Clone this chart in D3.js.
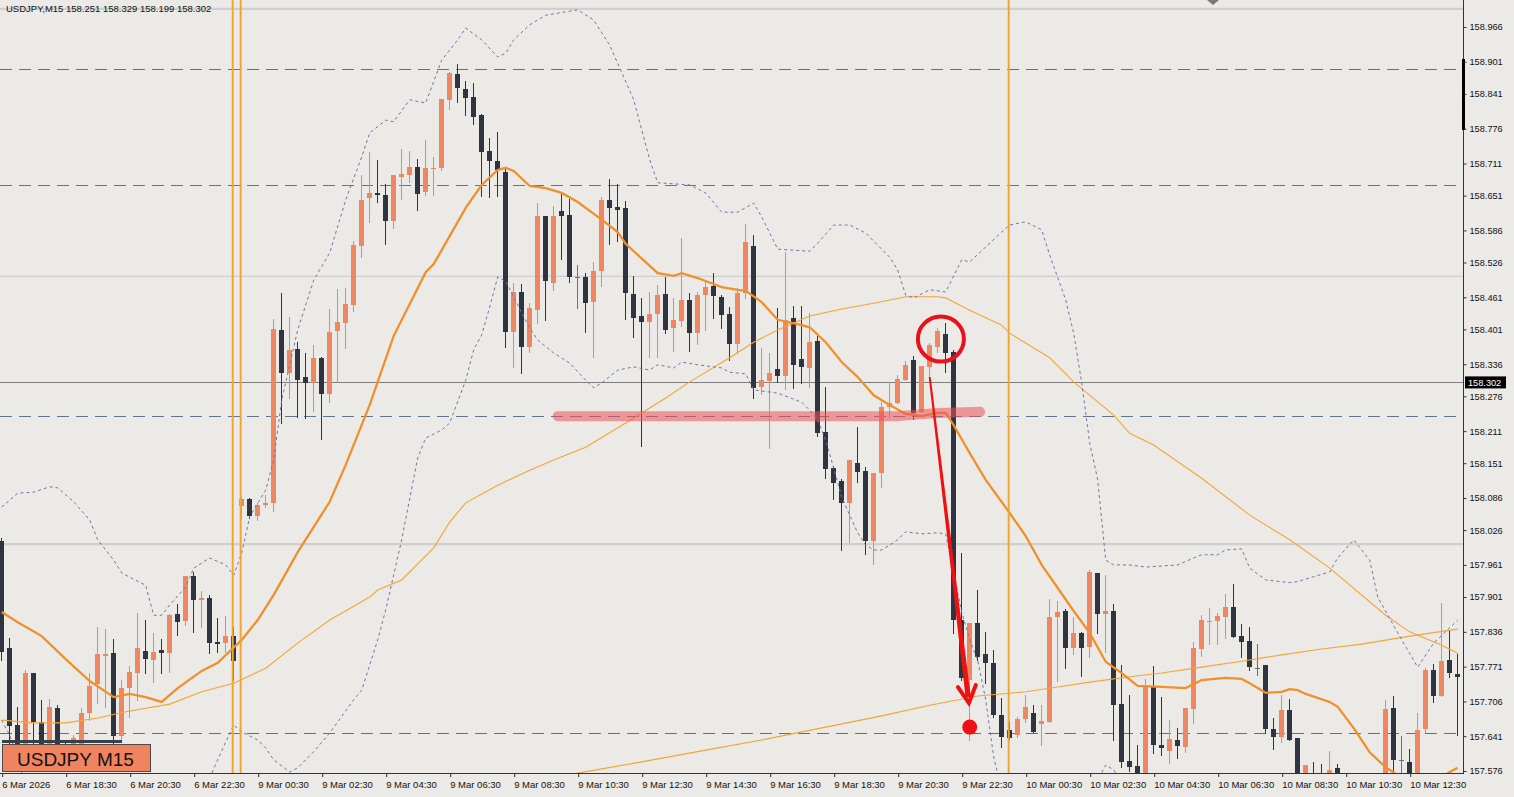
<!DOCTYPE html>
<html><head><meta charset="utf-8">
<script src="https://cdn.jsdelivr.net/npm/d3@7"></script>
<style>
html,body{margin:0;padding:0;background:#ECEAE6;overflow:hidden;}
svg{display:block;}
text{font-family:"Liberation Sans",Arial,sans-serif;}
</style></head><body>
<svg id="c" width="1514" height="797"></svg>
<script>
// ---------- DATA ----------
const symbolTitle = "USDJPY,M15  158.251 158.329 158.199 158.302";
const badgeText = "USDJPY M15";
const currentPrice = 158.302;

const opens = [158.006,157.806,157.662,157.587,157.759,157.668,157.597,157.694,157.625,157.606,157.625,157.684,157.738,157.791,157.796,157.641,157.731,157.759,157.800,157.783,157.802,157.796,157.869,157.856,157.940,157.895,157.899,157.817,157.815,157.828,
158.071,158.084,158.052,158.073,158.077,158.400,158.320,158.364,158.312,158.301,158.348,158.280,158.398,158.413,158.447,158.557,158.647,158.656,158.652,158.604,158.686,158.690,158.704,158.658,158.701,158.703,158.830,158.878,158.850,158.835,
158.802,158.734,158.716,158.695,158.396,158.471,158.368,158.437,158.613,158.488,158.622,158.615,158.499,158.499,158.452,158.510,158.643,158.630,158.628,158.467,158.426,158.415,158.430,158.467,158.404,158.417,158.456,158.394,158.465,158.482,
158.462,158.430,158.374,158.469,158.557,158.293,158.305,158.327,158.314,158.422,158.346,158.329,158.379,158.209,158.142,158.118,158.077,158.151,158.137,158.006,158.133,158.256,158.263,158.306,158.344,158.247,158.331,158.368,158.392,158.359,
157.858,157.746,157.852,157.795,157.778,157.681,157.653,157.643,157.673,157.684,157.664,157.668,157.864,157.875,157.806,157.834,157.808,157.946,157.869,157.875,157.701,157.595,157.585,157.550,157.735,157.625,157.613,157.634,157.621,157.692,
157.804,157.854,157.856,157.864,157.882,157.828,157.819,157.768,157.774,157.654,157.639,157.690,157.638,157.540,157.568,157.567,157.550,157.582,157.559,157.522,157.494,157.522,157.499,157.550,157.694,157.597,157.593,157.540,157.654,157.765,
157.716,157.783,157.757];
const highs = [158.011,157.824,157.696,157.765,157.759,157.709,157.710,157.699,157.630,157.643,157.694,157.759,157.845,157.841,157.823,157.746,157.772,157.871,157.858,157.834,157.823,157.869,157.888,157.940,157.948,157.912,157.905,157.862,157.866,157.845,
158.088,158.086,158.077,158.092,158.420,158.469,158.424,158.377,158.357,158.372,158.349,158.439,158.477,158.478,158.566,158.690,158.732,158.718,158.673,158.690,158.738,158.734,158.719,158.755,158.723,158.831,158.882,158.897,158.865,158.861,
158.803,158.759,158.770,158.703,158.488,158.486,158.450,158.637,158.613,158.632,158.656,158.645,158.521,158.506,158.527,158.648,158.682,158.673,158.641,158.501,158.460,158.471,158.484,158.499,158.460,158.572,158.469,158.471,158.493,158.506,
158.465,158.443,158.478,158.598,158.577,158.366,158.357,158.441,158.546,158.445,158.445,158.432,158.389,158.293,158.146,158.122,158.157,158.219,158.144,158.133,158.265,158.303,158.316,158.342,158.351,158.333,158.376,158.404,158.413,158.363,
157.983,157.852,157.914,157.836,157.802,157.712,157.668,157.677,157.718,157.699,157.699,157.897,157.894,157.879,157.864,157.836,157.951,157.946,157.942,157.888,157.774,157.718,157.625,157.748,157.772,157.714,157.671,157.656,157.694,157.817,
157.867,157.880,157.871,157.907,157.925,157.851,157.845,157.813,157.774,157.675,157.718,157.710,157.638,157.587,157.593,157.589,157.613,157.589,157.567,157.540,157.540,157.531,157.559,157.709,157.716,157.641,157.617,157.684,157.768,157.776,
157.890,157.839,157.795];
const lows = [157.783,157.619,157.578,157.578,157.615,157.587,157.582,157.597,157.587,157.597,157.615,157.671,157.703,157.696,157.612,157.630,157.677,157.709,157.759,157.742,157.759,157.761,157.830,157.849,157.836,157.845,157.796,157.798,157.798,157.746,
158.049,158.049,158.045,158.069,158.062,158.226,158.273,158.237,158.235,158.249,158.196,158.265,158.303,158.366,158.435,158.536,158.602,158.639,158.561,158.591,158.645,158.676,158.624,158.652,158.652,158.699,158.813,158.826,158.802,158.785,
158.650,158.648,158.650,158.368,158.331,158.320,158.359,158.413,158.419,158.475,158.533,158.490,158.441,158.396,158.349,158.482,158.561,158.566,158.420,158.387,158.183,158.349,158.349,158.394,158.361,158.407,158.361,158.374,158.400,158.422,
158.404,158.344,158.357,158.460,158.273,158.280,158.180,158.303,158.290,158.292,158.301,158.293,158.202,158.123,158.084,157.989,158.004,158.116,157.981,157.963,158.107,158.237,158.263,158.306,158.234,158.247,158.312,158.359,158.321,157.834,
157.746,157.634,157.783,157.740,157.677,157.621,157.636,157.639,157.668,157.649,157.625,157.668,157.744,157.768,157.795,157.754,157.789,157.834,157.798,157.634,157.584,157.576,157.531,157.540,157.610,157.606,157.591,157.600,157.612,157.666,
157.791,157.813,157.813,157.824,157.826,157.789,157.765,157.755,157.647,157.617,157.630,157.634,157.522,157.531,157.526,157.522,157.540,157.540,157.503,157.475,157.484,157.484,157.494,157.540,157.568,157.550,157.531,157.531,157.649,157.705,
157.716,157.752,157.643];
const closes = [157.798,157.660,157.597,157.759,157.668,157.606,157.696,157.615,157.600,157.638,157.684,157.735,157.795,157.795,157.641,157.731,157.761,157.806,157.785,157.798,157.796,157.867,157.854,157.940,157.895,157.899,157.815,157.813,157.828,157.781,
158.084,158.052,158.073,158.077,158.402,158.320,158.363,158.306,158.301,158.348,158.280,158.396,158.415,158.448,158.559,158.643,158.656,158.652,158.604,158.690,158.691,158.704,158.654,158.703,158.703,158.831,158.880,158.852,158.833,158.798,
158.732,158.716,158.699,158.396,158.471,158.368,158.441,158.613,158.491,158.613,158.613,158.499,158.499,158.450,158.510,158.643,158.628,158.624,158.469,158.422,158.415,158.430,158.465,158.400,158.419,158.456,158.394,158.465,158.480,158.463,
158.428,158.374,158.469,158.564,158.292,158.306,158.320,158.314,158.419,158.335,158.331,158.377,158.207,158.140,158.114,158.077,158.157,158.135,158.006,158.133,158.256,158.263,158.308,158.335,158.245,158.333,158.372,158.398,158.357,157.858,
157.750,157.852,157.789,157.778,157.681,157.639,157.638,157.673,157.696,157.649,157.669,157.864,157.873,157.806,157.834,157.806,157.948,157.869,157.875,157.699,157.593,157.584,157.550,157.733,157.625,157.619,157.636,157.623,157.694,157.806,
157.858,157.856,157.866,157.882,157.826,157.817,157.770,157.768,157.654,157.639,157.690,157.634,157.540,157.587,157.540,157.537,157.578,157.559,157.522,157.494,157.522,157.499,157.550,157.692,157.597,157.597,157.540,157.653,157.765,157.716,
157.781,157.759,157.752];

// Bollinger middle (thick orange), read at bar indices
const midBars = [0,2,5,8,11,14,16,18,20,22,25,27,30,32,34,37,41,43,46,49,53,54,58,60,62,63,64,66,68,70,72,75,77,78,82,84,85,87,90,92,93,95,97,100,101,103,105,107,109,111,113,115,117,118,119,121,123,126,128,130,134,136,138,140,142,145,148,150,153,155,156,158,160,161,162,163,166,167,169,171,173,175,177,179,181,182];
const midVals = [157.873,157.854,157.828,157.785,157.744,157.714,157.720,157.714,157.705,157.731,157.763,157.778,157.821,157.858,157.905,157.985,158.079,158.148,158.260,158.389,158.508,158.523,158.628,158.671,158.699,158.703,158.697,158.669,158.665,158.656,158.639,158.606,158.583,158.561,158.506,158.501,158.506,158.497,158.480,158.475,158.473,158.452,158.419,158.409,158.405,158.377,158.340,158.312,158.278,158.260,158.243,158.239,158.245,158.245,158.222,158.170,158.120,158.058,158.015,157.961,157.875,157.834,157.780,157.759,157.735,157.733,157.731,157.746,157.750,157.748,157.740,157.722,157.724,157.729,157.727,157.720,157.705,157.696,157.656,157.611,157.583,157.563,157.550,157.555,157.574,157.582];

// Upper band
const upBars = [0,2,4,6,7,9,11,12,14,15,16,18,19,20,21,23,24,26,28,29,30,31,33,34,35,37,39,41,43,45,46,48,49,51,53,55,57,58,60,62,63,64,66,68,72,74,76,79,81,82,86,88,90,92,94,95,97,99,101,102,104,106,108,111,112,113,114,116,118,120,121,125,126,128,130,131,133,134,135,136,137,138,139,141,143,147,149,150,152,153,155,156,158,161,162,164,166,167,169,171,172,175,177,179,182];
const upVals = [158.069,158.095,158.097,158.107,158.105,158.079,158.045,158.008,157.970,157.946,157.938,157.923,157.867,157.867,157.886,157.920,157.955,157.974,157.961,157.942,157.983,158.051,158.101,158.157,158.269,158.400,158.493,158.544,158.643,158.723,158.768,158.792,158.789,158.830,158.824,158.904,158.942,158.964,158.942,158.910,158.917,158.942,158.970,158.988,158.998,158.979,158.932,158.830,158.718,158.675,158.671,158.656,158.620,158.620,158.637,158.611,158.551,158.549,158.547,158.562,158.596,158.596,158.581,158.536,158.512,158.465,158.460,158.475,158.471,158.531,158.527,158.583,158.596,158.602,158.587,158.540,158.456,158.394,158.301,158.189,158.120,157.970,157.961,157.961,157.957,157.961,157.974,157.980,157.980,157.989,157.991,157.955,157.933,157.928,157.930,157.939,157.948,157.974,158.008,157.970,157.901,157.821,157.770,157.815,157.858];

// Lower band
const loBars = [0,1,2,3,5,10,16,22,26,27,28,29,30,32,33,34,36,37,39,41,44,45,47,48,50,52,53,55,56,58,59,60,61,62,63,65,66,67,69,71,73,74,75,77,79,81,82,84,85,87,90,91,93,94,97,100,101,102,103,104,105,106,107,108,109,110,111,112,113,115,117,118,120,121,122,123,124,125,127,130,135,137,138,139,141,146,155,165,175,182];
const loVals = [157.671,157.643,157.597,157.550,157.522,157.512,157.522,157.531,157.563,157.597,157.630,157.662,157.649,157.634,157.619,157.597,157.574,157.582,157.612,157.647,157.709,157.727,157.821,157.877,158.008,158.161,158.198,158.213,158.226,158.306,158.363,158.391,158.443,158.499,158.491,158.432,158.404,158.381,158.357,158.338,158.306,158.292,158.301,158.325,158.331,158.325,158.335,158.329,158.340,158.335,158.329,158.321,158.318,158.288,158.282,158.265,158.250,158.232,158.194,158.142,158.088,158.054,158.021,157.998,157.989,157.989,157.998,158.008,158.023,158.019,158.021,158.019,157.873,157.821,157.783,157.709,157.602,157.540,157.503,157.494,157.522,157.559,157.587,157.578,157.531,157.484,157.466,157.466,157.447,157.456];

// Slow moving average 1 (thin orange)
const ma1Bars = [0,4,8,12,16,21,25,29,33,37,41,46,47,50,54,56,58,62,66,69,73,78,80,83,86,91,94,97,101,105,109,113,117,118,121,125,126,131,134,139,141,144,150,156,161,166,173,176,180,182];
const ma1Vals = [157.671,157.666,157.666,157.675,157.688,157.701,157.724,157.740,157.768,157.815,157.858,157.901,157.914,157.933,157.993,158.041,158.077,158.110,158.138,158.157,158.181,158.226,158.245,158.273,158.303,158.348,158.377,158.400,158.426,158.439,158.450,158.462,158.462,158.460,158.437,158.409,158.394,158.348,158.303,158.241,158.207,158.185,158.123,158.054,158.008,157.955,157.867,157.836,157.811,157.796];

// Slow moving average 2 (thin orange)
const ma2Bars = [70,72,80,88,95,103,110,116,122,128,132,136,141,145,150,155,160,165,170,176,182];
const ma2Vals = [157.565,157.572,157.593,157.615,157.634,157.658,157.679,157.699,157.716,157.724,157.733,157.742,157.752,157.759,157.770,157.781,157.793,157.804,157.813,157.828,157.841];

// Horizontal levels
const roundLevels = [159.000, 158.500, 158.000];
const greenLevels = [158.888, 157.647];
const blueLevels = [158.671, 158.239];
const sessionBars = [29, 30, 126];

// Axis ticks
const priceTicks = [158.966,158.901,158.841,158.776,158.711,158.651,158.586,158.526,158.461,158.401,158.336,158.276,158.211,158.151,158.086,158.026,157.961,157.901,157.836,157.771,157.706,157.641,157.576];
const timeTickBars = [0,8,16,24,32,40,48,56,64,72,80,88,96,104,112,120,128,136,144,152,160,168,176];
const timeLabels = ["6 Mar 2026","6 Mar 18:30","6 Mar 20:30","6 Mar 22:30","9 Mar 00:30","9 Mar 02:30","9 Mar 04:30","9 Mar 06:30","9 Mar 08:30","9 Mar 10:30","9 Mar 12:30","9 Mar 14:30","9 Mar 16:30","9 Mar 18:30","9 Mar 20:30","9 Mar 22:30","10 Mar 00:30","10 Mar 02:30","10 Mar 04:30","10 Mar 06:30","10 Mar 08:30","10 Mar 10:30","10 Mar 12:30"];

// Annotations (bar index, price)
const zoneLine = [[69.5,158.239],[112,158.239],[117,158.245],[122.3,158.247]];
const circleMark = [117.4, 158.383];
const arrowFrom = [116.0, 158.312];
const arrowTo = [120.9, 157.703];
const dotMark = [121.0, 157.658];

// ---------- DRAW ----------
const svg = d3.select("#c");
const W = 1514, H = 797;
const plotL = 0, plotT = 8, plotR = 1463, plotB = 773;
const x = d3.scaleLinear().domain([0, 182]).range([1.7, 1457.7]);
const y = d3.scaleLinear().domain([157.576, 158.966]).range([771, 27]);

svg.append("rect").attr("width", W).attr("height", H).attr("fill", "#ECEAE6");

const defs = svg.append("defs");
defs.append("clipPath").attr("id", "plot").append("rect")
  .attr("x", plotL).attr("y", 0).attr("width", plotR - plotL).attr("height", plotB);

const g = svg.append("g").attr("clip-path", "url(#plot)");

// round levels
g.selectAll(".rl").data(roundLevels).join("line")
  .attr("x1", plotL).attr("x2", plotR)
  .attr("y1", d => y(d)).attr("y2", d => y(d))
  .attr("stroke", "#CFCFCF").attr("stroke-width", (d,i) => i === 1 ? 1.3 : 2.2);

// dashed levels
g.selectAll(".gl").data(greenLevels).join("line")
  .attr("x1", plotL).attr("x2", plotR)
  .attr("y1", d => Math.round(y(d)) + 0.5).attr("y2", d => Math.round(y(d)) + 0.5)
  .attr("stroke", "#5A7A60").attr("stroke-width", 1).attr("stroke-dasharray", "12,7");
g.selectAll(".bl").data(blueLevels).join("line")
  .attr("x1", plotL).attr("x2", plotR)
  .attr("y1", d => Math.round(y(d)) + 0.5).attr("y2", d => Math.round(y(d)) + 0.5)
  .attr("stroke", "#5E7596").attr("stroke-width", 1).attr("stroke-dasharray", "12,7");

// current price line
g.append("line").attr("x1", plotL).attr("x2", plotR)
  .attr("y1", Math.round(y(currentPrice)) + 0.5).attr("y2", Math.round(y(currentPrice)) + 0.5)
  .attr("stroke", "#7E7E7E").attr("stroke-width", 1);

// candles
const idx = d3.range(opens.length);
const bull = "#EF8662", bear = "#2E3540", dojiC = "#707070";
const col = i => closes[i] > opens[i] ? bull : (closes[i] < opens[i] ? bear : dojiC);
const cx = i => Math.floor(x(i));
g.selectAll(".wick").data(idx).join("line")
  .attr("x1", i => cx(i) + 0.5).attr("x2", i => cx(i) + 0.5)
  .attr("y1", i => Math.round(y(highs[i]))).attr("y2", i => Math.round(y(lows[i])) + 1)
  .attr("stroke", col).attr("stroke-width", 1);
g.selectAll(".body").data(idx).join("rect")
  .attr("x", i => cx(i) - 2).attr("width", 5)
  .attr("y", i => Math.round(y(Math.max(opens[i], closes[i]))))
  .attr("height", i => Math.max(1, Math.round(y(Math.min(opens[i], closes[i]))) - Math.round(y(Math.max(opens[i], closes[i])))))
  .attr("fill", col);

// indicator lines
const line = d3.line().x(d => x(d[0])).y(d => y(d[1]));
const zip = (a, b) => a.map((v, i) => [v, b[i]]);
g.append("path").attr("d", line(zip(ma2Bars, ma2Vals))).attr("fill", "none").attr("stroke", "#F4A535").attr("stroke-width", 1.1);
g.append("path").attr("d", line(zip(ma1Bars, ma1Vals))).attr("fill", "none").attr("stroke", "#F4A535").attr("stroke-width", 1.1);
g.append("path").attr("d", line(zip(upBars, upVals))).attr("fill", "none").attr("stroke", "#7A6EA6").attr("stroke-width", 1).attr("stroke-dasharray", "3,3");
g.append("path").attr("d", line(zip(loBars, loVals))).attr("fill", "none").attr("stroke", "#7A6EA6").attr("stroke-width", 1).attr("stroke-dasharray", "3,3");
g.append("path").attr("d", line(zip(midBars, midVals))).attr("fill", "none").attr("stroke", "#F0902C").attr("stroke-width", 2.3);

// session separators
g.selectAll(".sep").data(sessionBars).join("line")
  .attr("x1", d => x(d) - 1).attr("x2", d => x(d) - 1)
  .attr("y1", 0).attr("y2", plotB)
  .attr("stroke", "#F3A531").attr("stroke-width", 2);

// top marker
svg.append("path").attr("d", "M1207,0 L1219,0 L1213,5 Z").attr("fill", "#7A7A7A");

// annotations
g.append("path").attr("d", line(zoneLine)).attr("fill", "none")
  .attr("stroke", "rgb(238,80,85)").attr("stroke-opacity", 0.55)
  .attr("stroke-width", 10).attr("stroke-linecap", "round").attr("stroke-linejoin", "round");
g.append("ellipse").attr("cx", x(circleMark[0])).attr("cy", y(circleMark[1]))
  .attr("rx", 23).attr("ry", 22.5).attr("fill", "none").attr("stroke", "#E8121A").attr("stroke-width", 4);
{
  const x0 = x(arrowFrom[0]), y0 = y(arrowFrom[1]), x1 = x(arrowTo[0]), y1 = y(arrowTo[1]);
  const dx = x1 - x0, dy = y1 - y0, len = Math.hypot(dx, dy);
  const ux = dx / len, uy = dy / len, px = -uy, py = ux;
  const w0 = 1, w1 = 2.6;
  const ex = x1 - ux * 6, ey = y1 - uy * 6;
  g.append("path").attr("d",
    `M${x0 + px*w0},${y0 + py*w0} L${ex + px*w1},${ey + py*w1} L${ex - px*w1},${ey - py*w1} L${x0 - px*w0},${y0 - py*w0} Z`)
    .attr("fill", "#EE1111");
  const hl = 17, hw = 9;
  const bx = x1 - ux * hl, by = y1 - uy * hl;
  g.append("path").attr("d",
    `M${bx + px*hw},${by + py*hw} L${x1},${y1} L${bx - px*hw},${by - py*hw}`)
    .attr("fill", "none").attr("stroke", "#EE1111").attr("stroke-width", 4).attr("stroke-linecap", "round").attr("stroke-linejoin", "miter");
}
g.append("circle").attr("cx", x(dotMark[0])).attr("cy", y(dotMark[1])).attr("r", 7.5).attr("fill", "#EC1218");

// badge
svg.append("rect").attr("x", 2).attr("y", 740).attr("width", 120).attr("height", 3).attr("fill", "#3A3F46");
svg.append("rect").attr("x", 2.5).attr("y", 744.5).attr("width", 148).attr("height", 27).attr("fill", "#F08460").attr("stroke", "#4A4A4A").attr("stroke-width", 1);
svg.append("text").attr("x", 17).attr("y", 766).attr("font-size", 19).attr("fill", "#111").text(badgeText);

// header text
svg.append("text").attr("x", 6).attr("y", 12).attr("font-size", 9.5).attr("fill", "#111").text(symbolTitle);

// right axis
svg.append("line").attr("x1", 1463.5).attr("x2", 1463.5).attr("y1", 0).attr("y2", plotB + 1).attr("stroke", "#333").attr("stroke-width", 1);
svg.append("rect").attr("x", 1462).attr("y", 59).attr("width", 3).attr("height", 71).attr("fill", "#000");
const ya = svg.append("g").attr("transform", "translate(1463.5,0)")
  .call(d3.axisRight(y).tickValues(priceTicks).tickFormat(d3.format(".3f")).tickSize(3).tickPadding(3));
ya.select(".domain").remove();
ya.selectAll("line").attr("stroke", "#333");
ya.selectAll("text").attr("font-size", 9.2).attr("fill", "#111").attr("font-family", "Liberation Sans, Arial, sans-serif");

// current price badge
svg.append("rect").attr("x", 1465).attr("y", y(currentPrice) - 6).attr("width", 41).attr("height", 12).attr("fill", "#000");
svg.append("text").attr("x", 1468).attr("y", y(currentPrice) + 3.5).attr("font-size", 9.2).attr("fill", "#fff").text(currentPrice.toFixed(3));

// bottom axis
svg.append("line").attr("x1", 0).attr("x2", 1464).attr("y1", plotB + 0.5).attr("y2", plotB + 0.5).attr("stroke", "#333");
const xa = svg.append("g").attr("transform", `translate(0,${plotB})`)
  .call(d3.axisBottom(x).tickValues(timeTickBars).tickFormat((d, i) => timeLabels[i]).tickSize(4).tickPadding(4));
xa.select(".domain").remove();
xa.selectAll("line").attr("stroke", "#333").attr("transform", "translate(0.5,0)");
xa.selectAll("text").attr("font-size", 9.5).attr("fill", "#111").attr("text-anchor", "start").attr("dx", 0)
  .attr("font-family", "Liberation Sans, Arial, sans-serif");
</script>
</body></html>
